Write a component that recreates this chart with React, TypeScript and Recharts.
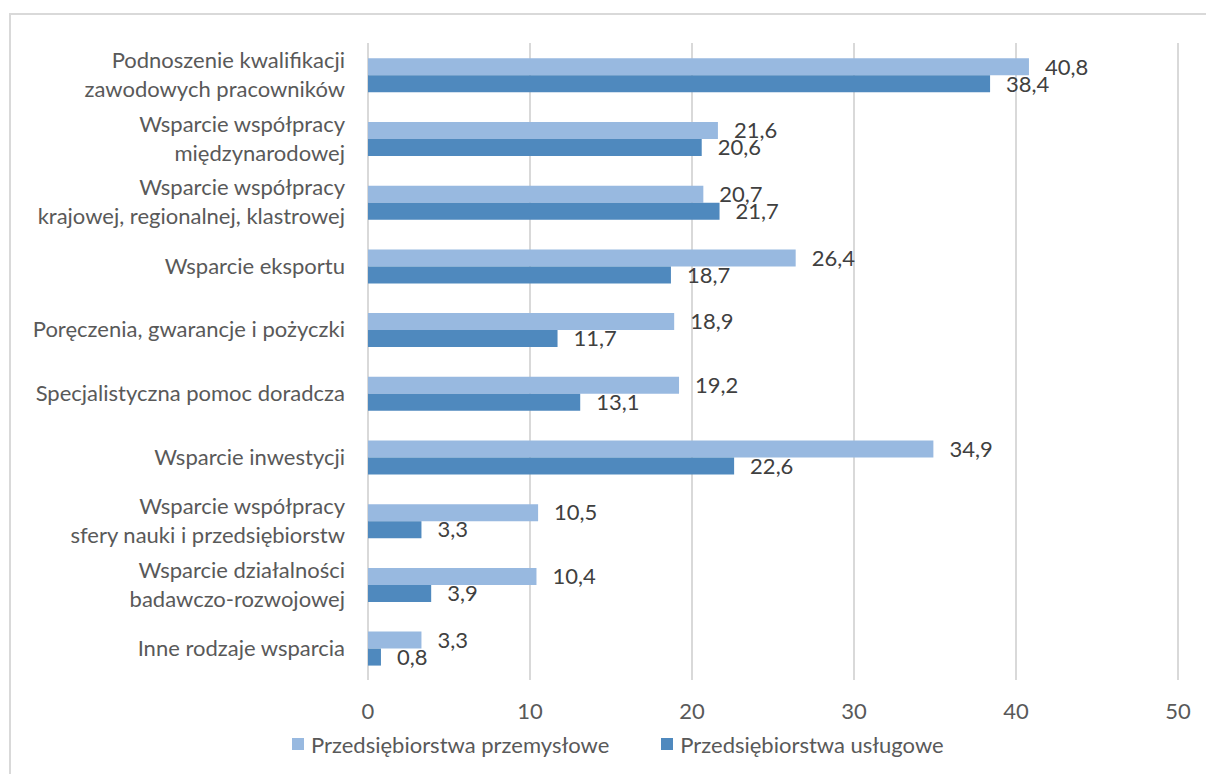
import React from 'react';
import { BarChart, Bar, XAxis, YAxis, CartesianGrid, Legend, LabelList } from 'recharts';

// category labels, "\n" splits a label into lines
const categories = [
    'Podnoszenie kwalifikacji\nzawodowych pracowników',
    'Wsparcie współpracy\nmiędzynarodowej',
    'Wsparcie współpracy\nkrajowej, regionalnej, klastrowej',
    'Wsparcie eksportu',
    'Poręczenia, gwarancje i pożyczki',
    'Specjalistyczna pomoc doradcza',
    'Wsparcie inwestycji',
    'Wsparcie współpracy\nsfery nauki i przedsiębiorstw',
    'Wsparcie działalności\nbadawczo-rozwojowej',
    'Inne rodzaje wsparcia',
];

const przemyslowe = [40.8, 21.6, 20.7, 26.4, 18.9, 19.2, 34.9, 10.5, 10.4, 3.3];
const uslugowe = [38.4, 20.6, 21.7, 18.7, 11.7, 13.1, 22.6, 3.3, 3.9, 0.8];

const seriesNames = ['Przedsiębiorstwa przemysłowe', 'Przedsiębiorstwa usługowe'];
const seriesColors = ['#98B9E0', '#4F89BE'];

const xTicks = [0, 10, 20, 30, 40, 50];

const chartData = categories.map((name, i) => ({
    name,
    przemyslowe: przemyslowe[i],
    uslugowe: uslugowe[i],
}));

const FONT = 'Lato, "Open Sans", sans-serif';
const formatValue = (v: any) => Number(v).toFixed(1).replace('.', ',');

const CategoryTick = (props: any) => {
    const { x, y, payload } = props;
    const lines: string[] = String(payload.value).split('\n');
    const lineHeight = 29;
    const startY = y - ((lines.length - 1) * lineHeight) / 2;
    return (
        <text x={x} y={startY} textAnchor="end" fill="#595959" fontSize={22} fontFamily={FONT}>
            {lines.map((line, i) => (
                <tspan key={i} x={x} y={startY + i * lineHeight} dy="0.35em">{line}</tspan>
            ))}
        </text>
    );
};

const LegendContent = () => (
    <div style={{ display: 'flex', paddingLeft: 292, paddingTop: 8, height: 40, boxSizing: 'border-box', alignItems: 'center', fontFamily: FONT, fontSize: 22, color: '#595959' }}>
        {seriesNames.map((name, i) => (
            <div key={name} style={{ display: 'flex', alignItems: 'center', marginRight: 52 }}>
                <span style={{ display: 'inline-block', width: 12, height: 12, background: seriesColors[i], marginRight: 7 }} />
                <span>{name}</span>
            </div>
        ))}
    </div>
);

export default function App() {
    return (
        <div style={{ position: 'absolute', left: 0, top: 0, width: 1206, height: 774, overflow: 'hidden', background: '#fff' }}>
            <div style={{ position: 'absolute', left: 9, top: 13, width: 1400, height: 1000, border: '2px solid #D9D9D9' }} />
            <div style={{ position: 'absolute', left: 0, top: 0 }}>
                <BarChart
                    width={1206}
                    height={774}
                    data={chartData}
                    layout="vertical"
                    margin={{ top: 43, right: 28, bottom: 14, left: 0 }}
                    barCategoryGap="24%"
                    barGap={0}
                >
                    <CartesianGrid horizontal={false} stroke="#D9D9D9" strokeWidth={2} />
                    <XAxis
                        type="number"
                        domain={[0, 50]}
                        ticks={xTicks}
                        axisLine={false}
                        tickLine={false}
                        height={40}
                        tickSize={6}
                        tickMargin={17}
                        tick={{ fill: '#595959', fontSize: 22, fontFamily: FONT }}
                    />
                    <YAxis
                        type="category"
                        dataKey="name"
                        width={368}
                        axisLine={false}
                        tickLine={false}
                        tickSize={6}
                        tickMargin={17}
                        interval={0}
                        tick={<CategoryTick />}
                    />
                    <Legend verticalAlign="bottom" height={40} content={<LegendContent />} />
                    <Bar dataKey="przemyslowe" name={seriesNames[0]} fill={seriesColors[0]} isAnimationActive={false}>
                        <LabelList dataKey="przemyslowe" position="right" offset={16} formatter={formatValue}
                            fill="#404040" fontSize={22} fontFamily={FONT} />
                    </Bar>
                    <Bar dataKey="uslugowe" name={seriesNames[1]} fill={seriesColors[1]} isAnimationActive={false}>
                        <LabelList dataKey="uslugowe" position="right" offset={16} formatter={formatValue}
                            fill="#404040" fontSize={22} fontFamily={FONT} />
                    </Bar>
                </BarChart>
            </div>
        </div>
    );
}
